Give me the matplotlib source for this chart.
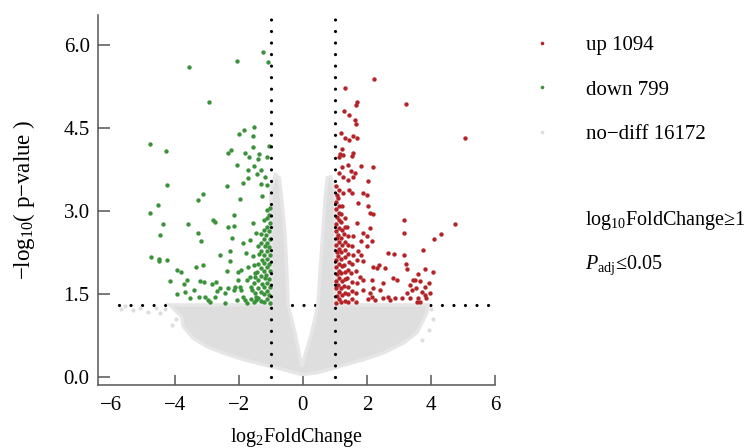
import matplotlib
matplotlib.use("Agg")
import matplotlib.pyplot as plt
from matplotlib.lines import Line2D

plt.rcParams['font.family'] = ['Liberation Serif', 'DejaVu Serif']
plt.rcParams['mathtext.fontset'] = 'custom'
plt.rcParams['mathtext.rm'] = 'Liberation Serif'
plt.rcParams['mathtext.it'] = 'Liberation Serif:italic'

# significant up-regulated genes (log2FC, -log10 p)
up_x = [2.22, 1.33, 3.22, 5.06, 1.70, 1.66, 1.29, 1.44, 1.63, 1.65, 1.20, 1.31, 1.45, 1.57, 1.68,
        1.21, 1.16, 1.26, 1.13, 1.57, 1.52, 1.83, 2.20, 1.21, 1.42, 1.49, 1.63, 1.13, 1.26, 1.42,
        1.57, 2.04, 1.13, 1.26, 1.45, 1.52, 1.88, 1.99,
        1.73, 2.04, 2.20, 3.16, 3.16, 4.76, 4.30, 4.10, 3.74, 2.67, 2.84, 3.16, 3.22, 3.26, 2.11,
        2.17, 1.89, 1.83, 1.99, 1.89, 2.20, 2.30, 2.56, 2.38, 4.07, 3.81, 3.60, 3.50, 3.66, 2.82,
        2.93, 2.51, 3.34, 3.40, 3.81, 3.71, 3.97, 3.24, 3.08, 3.34, 3.60, 3.81, 3.66, 3.55, 2.67,
        2.88, 2.51, 2.25, 2.41, 2.20, 2.09, 1.89, 1.89, 2.15, 1.68, 1.78, 1.99, 1.68, 2.09, 1.57,
        1.73, 1.83, 3.93, 3.45, 3.53, 3.86, 2.72, 2.04, 2.15,
        1.04, 1.05, 1.03, 1.04, 1.06, 1.04, 1.03, 1.05, 1.04, 1.06, 1.03, 1.04, 1.05, 1.04, 1.03,
        1.05, 1.04,
        1.12, 1.13, 1.11, 1.12, 1.14, 1.12, 1.11, 1.13, 1.12, 1.11, 1.13, 1.12, 1.14, 1.12, 1.11,
        1.20, 1.21, 1.19, 1.22, 1.20, 1.21, 1.19, 1.20, 1.22, 1.20, 1.21, 1.19, 1.20, 1.21,
        1.30, 1.31, 1.29, 1.32, 1.30, 1.29, 1.31, 1.30, 1.32, 1.29, 1.31, 1.30,
        1.41, 1.40, 1.42, 1.39, 1.41, 1.43, 1.40, 1.42, 1.41, 1.39,
        1.53, 1.52, 1.54, 1.51, 1.53, 1.55, 1.52,
        1.66, 1.67, 1.65, 1.68]
up_y = [5.40, 5.23, 4.93, 4.33, 4.98, 4.92, 4.81, 4.74, 4.65, 4.58, 4.42, 4.33, 4.29, 4.35, 4.33,
        4.13, 4.04, 4.01, 3.97, 4.06, 4.00, 3.82, 3.79, 3.80, 3.83, 3.72, 3.69, 3.68, 3.62, 3.57,
        3.62, 3.54, 3.38, 3.32, 3.38, 3.32, 3.33, 3.29,
        3.14, 3.09, 2.94, 2.84, 2.61, 2.76, 2.59, 2.50, 2.30, 2.24, 2.22, 2.21, 2.04, 1.95, 2.69,
        2.46, 2.60, 2.45, 2.36, 2.09, 1.98, 1.96, 1.96, 2.02, 1.90, 1.95, 1.86, 1.75, 1.74, 1.78,
        1.75, 1.69, 1.66, 1.57, 1.63, 1.54, 1.51, 1.51, 1.42, 1.42, 1.42, 1.48, 1.36, 1.36, 1.45,
        1.42, 1.42, 1.39, 1.57, 1.60, 1.51, 1.57, 1.75, 1.75, 1.69, 1.81, 2.54, 2.78, 2.96, 2.54,
        2.27, 2.21, 1.69, 1.75, 1.60, 1.42, 1.39, 1.40, 1.45,
        1.34, 1.47, 1.60, 1.73, 1.86, 1.99, 2.12, 2.25, 2.38, 2.51, 2.64, 2.77, 2.90, 3.03, 3.16,
        3.29, 3.45,
        1.40, 1.53, 1.66, 1.79, 1.92, 2.05, 2.18, 2.31, 2.44, 2.57, 2.70, 2.83, 2.96, 3.10, 3.24,
        1.35, 1.48, 1.61, 1.74, 1.87, 2.00, 2.13, 2.26, 2.39, 2.52, 2.65, 2.80, 2.95, 3.10,
        1.38, 1.51, 1.64, 1.77, 1.90, 2.03, 2.16, 2.30, 2.44, 2.58, 2.72, 2.88,
        1.35, 1.49, 1.63, 1.78, 1.93, 2.08, 2.22, 2.38, 2.55, 2.72,
        1.40, 1.55, 1.71, 1.88, 2.04, 2.20, 2.36,
        1.36, 1.52, 1.92, 2.12]

# significant down-regulated genes
down_x = [-1.26, -1.08, -2.06, -3.57, -2.92, -4.78, -4.27, -1.54, -1.84, -1.99, -1.57, -1.57,
          -2.24, -2.33, -1.82, -1.37, -1.06, -1.69, -1.40, -1.12, -2.06, -1.54, -1.73, -1.32,
          -1.43, -1.18, -1.70, -1.88, -1.31, -1.13, -4.24, -2.37, -3.13, -1.27, -1.96, -3.27,
          -4.52, -4.78, -4.36, -4.47, -3.60, -2.81, -2.75, -2.15, -2.35, -2.16, -3.27, -3.19,
          -2.21, -4.74, -4.51, -4.26, -4.50, -3.92, -3.82, -3.34, -3.13, -4.16, -3.63, -3.70,
          -3.22, -3.09, -2.84, -2.70, -2.59, -2.37, -2.28, -2.28, -2.02,
          -3.93, -3.69, -3.53, -3.40, -3.25, -3.06, -2.91, -2.75, -2.67, -2.44, -2.35, -2.16,
          -2.07, -1.97, -1.86, -1.76, -2.96, -2.59, -2.44, -2.13, -1.92, -1.81, -1.60, -1.45,
          -1.88, -1.79, -1.66, -1.55, -1.45, -1.70, -2.02, -1.76, -1.92, -1.55, -1.50, -1.45,
          -1.04, -1.06, -1.03, -1.05, -1.04, -1.06, -1.03, -1.05, -1.04, -1.06, -1.04, -1.05, -1.03,
          -1.12, -1.13, -1.11, -1.14, -1.12, -1.11, -1.13, -1.12, -1.14, -1.11, -1.13, -1.12,
          -1.21, -1.20, -1.22, -1.19, -1.21, -1.20, -1.22, -1.19, -1.21, -1.20, -1.22,
          -1.30, -1.31, -1.29, -1.32, -1.30, -1.29, -1.31, -1.30, -1.32,
          -1.40, -1.41, -1.39, -1.42, -1.40, -1.38, -1.41,
          -1.52, -1.51, -1.53, -1.50, -1.52,
          -1.63, -1.62, -1.64]
down_y = [5.88, 5.70, 5.71, 5.61, 4.98, 4.21, 4.09, 4.52, 4.46, 4.40, 4.36, 4.16,
          4.10, 4.05, 4.06, 4.04, 4.18, 3.97, 3.94, 3.98, 3.83, 3.82, 3.75, 3.75,
          3.67, 3.62, 3.59, 3.51, 3.49, 3.48, 3.48, 3.46, 3.30, 3.27, 3.21, 3.20,
          3.11, 2.96, 2.76, 2.57, 2.77, 2.84, 2.80, 2.92, 2.71, 2.73, 2.61, 2.45,
          2.52, 2.17, 2.13, 2.12, 2.09, 1.93, 1.90, 1.98, 2.03, 1.73, 1.75, 1.68,
          1.74, 1.72, 1.68, 1.72, 2.20, 1.92, 2.28, 2.10, 1.90,
          1.50, 1.54, 1.42, 1.57, 1.44, 1.45, 1.36, 1.44, 1.55, 1.33, 1.60, 1.57,
          1.39, 1.63, 1.45, 1.33, 1.39, 1.60, 1.51, 1.63, 1.57, 1.39, 1.57, 1.39,
          2.42, 2.24, 2.48, 2.78, 2.60, 1.99, 1.75, 1.75, 1.93, 2.18, 1.81, 1.45,
          1.34, 1.48, 1.62, 1.77, 1.91, 2.05, 2.20, 2.34, 2.49, 2.63, 2.78, 2.93, 3.06,
          1.40, 1.55, 1.70, 1.84, 1.99, 2.14, 2.28, 2.43, 2.57, 2.72, 2.87, 3.02,
          1.35, 1.50, 1.63, 1.78, 1.92, 2.06, 2.21, 2.36, 2.50, 2.66, 2.83,
          1.38, 1.53, 1.68, 1.82, 1.97, 2.12, 2.28, 2.42, 2.58,
          1.43, 1.60, 1.75, 1.90, 2.05, 2.22, 2.36,
          1.35, 1.52, 1.70, 1.88, 2.02,
          1.41, 1.63, 1.80]

# outline of the dense cloud of non-significant genes
nodiff_x = [-4.16, -3.79, -3.74, -3.43, -3.01, -2.49, -1.86, -1.24, -0.61, -0.04, 0.43, 1.05,
            1.89, 2.51, 3.14, 3.55, 3.71, 3.87, 3.90, 1.00, 1.00, 0.88, 0.76, 0.69, 0.62, 0.55,
            0.47, 0.28, 0.05, -0.03, -0.10, -0.25, -0.46, -0.51, -0.56, -0.66, -0.74, -0.86,
            -1.00, -1.00]
nodiff_y = [1.30, 1.09, 0.91, 0.70, 0.55, 0.43, 0.31, 0.22, 0.13, 0.04, 0.07, 0.17,
            0.31, 0.43, 0.61, 0.79, 0.97, 1.15, 1.30, 1.30, 3.35, 3.62, 3.60, 3.20, 2.60, 2.00,
            1.30, 0.80, 0.36, 0.18, 0.36, 0.80, 1.30, 2.00, 2.60, 3.20, 3.60, 3.66,
            3.40, 1.30]
# scattered non-significant genes outside the dense cloud
sparse_x = [-5.68, -5.55, -5.30, -5.10, -4.85, -4.60, -4.45, -4.30, -4.10, -3.95, 4.00, 4.05, 3.95, 3.71]
sparse_y = [1.22, 1.28, 1.20, 1.25, 1.18, 1.25, 1.15, 1.22, 0.94, 1.05, 1.22, 1.05, 0.85, 0.67]

labels = ["up 1094", "down 799", "no\u2212diff 16172"]
fc_cut = 1
p_cut = 1.301

red = '#b42328'
green = '#3a923a'
grey = '#dedede'

fig = plt.figure(figsize=(7.46, 4.48), dpi=100)
ax = fig.add_axes([98 / 746, 63 / 448, 397 / 746, 370 / 448])

dots = (0, (0.01, 3.6))
ax.plot([-5.75, 5.9], [p_cut, p_cut], color='black', lw=2.3, ls=dots,
        dash_capstyle='round', zorder=2)
ax.fill(nodiff_x, nodiff_y, color=grey, lw=2.5, ec='#e6e6e6', zorder=3)
ax.scatter(sparse_x, sparse_y, s=9, color=grey, lw=0, zorder=3)
ax.scatter(up_x, up_y, s=10, color=red, lw=0, zorder=4)
ax.scatter(down_x, down_y, s=10, color=green, lw=0, zorder=4)
for xv in (-fc_cut, fc_cut):
    ax.plot([xv, xv], [-0.01, 6.52], color='black', lw=2.3, ls=dots,
            dash_capstyle='round', zorder=5)

ax.set_xlim(-6.4, 6)
ax.set_ylim(-0.15, 6.55)
ax.set_xticks([-6, -4, -2, 0, 2, 4, 6])
ax.set_yticks([0, 1.5, 3.0, 4.5, 6.0])
ax.set_yticklabels(["0.0", "1.5", "3.0", "4.5", "6.0"])
ax.xaxis.get_major_ticks()[0].tick1line.set_visible(False)
for s in ('top', 'right'):
    ax.spines[s].set_visible(False)
for s in ('left', 'bottom'):
    ax.spines[s].set_color('#555555')
    ax.spines[s].set_linewidth(1.1)
ax.tick_params(axis='x', direction='in', length=7, width=1.1, color='#555555',
               labelsize=15, pad=8)
ax.tick_params(axis='y', direction='in', length=8.5, width=1.1, color='#555555',
               labelsize=15, pad=6)

ax.set_xlabel("log$_{2}$FoldChange", fontsize=14.5, labelpad=8)
ax.set_ylabel("\u2212log$_{10}$( p\u2212value )", fontsize=16.5, labelpad=19)

handles = [Line2D([], [], ls='none', marker='o', ms=2.6, mew=0, color=c)
           for c in (red, green, grey)]
fig.legend(handles, labels, loc='upper left', bbox_to_anchor=(519 / 746, 1 - 25 / 448),
           frameon=False, fontsize=15, labelspacing=1.2, handlelength=1.2,
           handletextpad=1.5, borderpad=0)

fig.text(585 / 746, 1 - 220 / 448, "log$_{10}$FoldChange\u22651", fontsize=14.5, va='center')
fig.text(585 / 746, 1 - 265 / 448, "$P_{\\mathrm{adj}}$\u22640.05", fontsize=14.5, va='center')

fig.savefig("out.png", dpi=100)
